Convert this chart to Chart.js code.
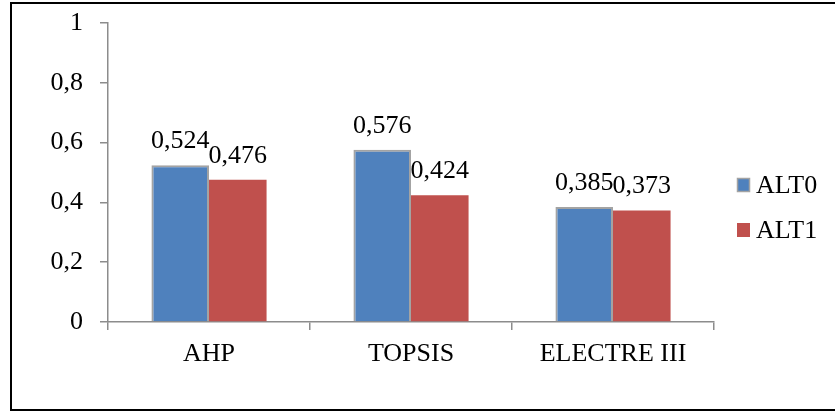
<!DOCTYPE html>
<html>
<head>
<meta charset="utf-8">
<script src="https://cdn.jsdelivr.net/npm/chart.js@4.4.1/dist/chart.umd.min.js"></script>
<style>
  html, body { margin: 0; padding: 0; background: #ffffff; }
  #wrap { width: 835px; height: 412px; position: relative; }
</style>
</head>
<body>
<div id="wrap"><canvas id="c" width="835" height="412"></canvas></div>
<script>
const categories = ['AHP', 'TOPSIS', 'ELECTRE III'];
const seriesNames = ['ALT0', 'ALT1'];
const alt0Values = [0.524, 0.576, 0.385];
const alt1Values = [0.476, 0.424, 0.373];
const yTicks = [0, 0.2, 0.4, 0.6, 0.8, 1];

const FONT = '"Liberation Serif", "Times New Roman", serif';
const FS = 26;
const fmt = v => {
  const s = (Math.round(v * 1000) / 1000).toString();
  return s.replace('.', ',');
};

const frame = {
  id: 'frame',
  beforeDraw(chart) {
    const ctx = chart.ctx;
    ctx.save();
    ctx.fillStyle = '#ffffff';
    ctx.fillRect(0, 0, chart.width, chart.height);
    ctx.strokeStyle = '#000000';
    ctx.lineWidth = 2;
    ctx.beginPath();
    ctx.moveTo(840, 3);
    ctx.lineTo(11, 3);
    ctx.lineTo(11, 410);
    ctx.lineTo(840, 410);
    ctx.stroke();
    ctx.restore();
  }
};

const valueLabels = {
  id: 'valueLabels',
  afterDatasetsDraw(chart) {
    const ctx = chart.ctx;
    ctx.save();
    ctx.font = FS + 'px ' + FONT;
    ctx.fillStyle = '#000000';
    ctx.textAlign = 'center';
    ctx.textBaseline = 'alphabetic';
    chart.data.datasets.forEach((ds, di) => {
      const meta = chart.getDatasetMeta(di);
      meta.data.forEach((bar, i) => {
        ctx.fillText(fmt(ds.data[i]), bar.x, bar.y - 17);
      });
    });
    ctx.restore();
  }
};

const customLegend = {
  id: 'customLegend',
  afterDraw(chart) {
    const ctx = chart.ctx;
    ctx.save();
    ctx.font = FS + 'px ' + FONT;
    ctx.textAlign = 'left';
    ctx.textBaseline = 'alphabetic';
    chart.data.datasets.forEach((ds, i) => {
      const top = 178 + i * 45;
      ctx.fillStyle = ds.backgroundColor;
      ctx.fillRect(737, top, 13, 14);
      if (ds.borderWidth) {
        ctx.strokeStyle = ds.borderColor;
        ctx.lineWidth = 1.5;
        ctx.strokeRect(737.5, top + 0.5, 12, 13);
      }
      ctx.fillStyle = '#000000';
      ctx.fillText(ds.label, 756, top + 15);
    });
    ctx.restore();
  }
};

new Chart(document.getElementById('c'), {
  type: 'bar',
  data: {
    labels: categories,
    datasets: [
      {
        label: seriesNames[0],
        data: alt0Values,
        backgroundColor: '#4F81BD',
        borderColor: '#A3A3A3',
        borderWidth: 2,
        borderSkipped: 'bottom',
        barPercentage: 1.0,
        categoryPercentage: 0.57
      },
      {
        label: seriesNames[1],
        data: alt1Values,
        backgroundColor: '#C0504D',
        borderWidth: 0,
        barPercentage: 1.0,
        categoryPercentage: 0.57
      }
    ]
  },
  options: {
    responsive: false,
    animation: false,
    devicePixelRatio: 1,
    layout: { padding: { left: 0, right: 121, top: 23, bottom: 0 } },
    plugins: {
      legend: { display: false },
      tooltip: { enabled: false }
    },
    scales: {
      x: {
        grid: {
          display: true,
          drawOnChartArea: false,
          drawTicks: true,
          tickLength: 8,
          color: '#8C8C8C',
          lineWidth: 1.5,
          offset: true
        },
        border: { display: true, color: '#8C8C8C', width: 1.5 },
        ticks: {
          font: { family: FONT, size: FS },
          color: '#000000',
          padding: 9,
          maxRotation: 0
        },
        afterFit(scale) {
          scale.height = 90;
          scale.paddingLeft = 0;
          scale.paddingRight = 0;
        }
      },
      y: {
        min: 0,
        max: 1,
        afterBuildTicks(scale) { scale.ticks = yTicks.map(v => ({ value: v })); },
        grid: {
          display: true,
          drawOnChartArea: false,
          drawTicks: true,
          tickLength: 8,
          color: '#8C8C8C',
          lineWidth: 1.5
        },
        border: { display: true, color: '#8C8C8C', width: 1.5 },
        ticks: {
          font: { family: FONT, size: FS },
          color: '#000000',
          padding: 17,
          callback: v => fmt(v)
        },
        afterFit(scale) {
          scale.width = 108;
          scale.paddingTop = 0;
          scale.paddingBottom = 0;
        }
      }
    }
  },
  plugins: [frame, valueLabels, customLegend]
});
</script>
</body>
</html>
